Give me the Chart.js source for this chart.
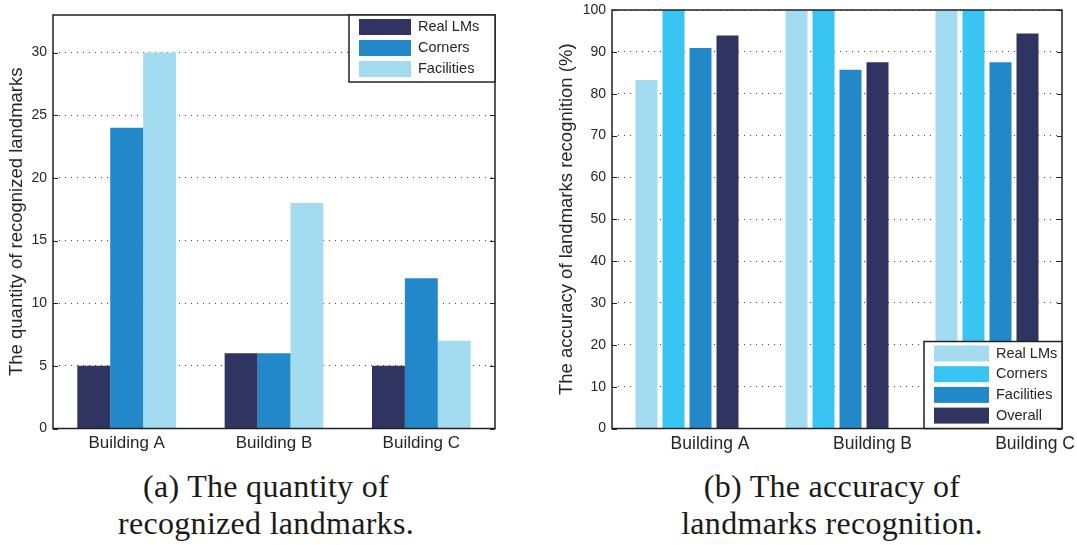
<!DOCTYPE html>
<html>
<head>
<meta charset="utf-8">
<script src="https://cdn.jsdelivr.net/npm/chart.js@4.4.1/dist/chart.umd.min.js"></script>
<style>
  body { margin: 0; background: #fff; width: 1077px; height: 545px; position: relative; overflow: hidden; }
  .wrap { position: absolute; top: 0; height: 460px; }
  .caption { position: absolute; top: 468px; font-family: "Liberation Serif", "DejaVu Serif", serif; font-size: 32px; line-height: 37px; letter-spacing: 0.3px; text-align: center; color: #1a1a1a; }
</style>
</head>
<body>
<div class="wrap" style="left:0;width:540px"><canvas id="left" width="540" height="460"></canvas></div>
<div class="wrap" style="left:540px;width:537px"><canvas id="right" width="537" height="460"></canvas></div>
<div class="caption" style="left:0;width:532px">(a) The quantity of<br>recognized landmarks.</div>
<div class="caption" style="left:562px;width:540px">(b) The accuracy of<br>landmarks recognition.</div>
<script>
const buildings = ['Building A', 'Building B', 'Building C'];

// (a) counts
const qtyReal = [5, 6, 5];
const qtyCorners = [24, 6, 12];
const qtyFacilities = [30, 18, 7];
const qtyTicks = [0, 5, 10, 15, 20, 25, 30];

// (b) accuracy in %
const accReal = [83.3, 100, 100];
const accCorners = [100, 100, 100];
const accFacilities = [90.9, 85.7, 87.5];
const accOverall = [93.9, 87.5, 94.4];
const accTicks = [0, 10, 20, 30, 40, 50, 60, 70, 80, 90, 100];

const NAVY = '#2f3461';
const MID = '#2288c9';
const LIGHT = '#a3dcf1';
const CYAN = '#38c5f1';
const INK = '#262626';
const SANS = '"Liberation Sans", Arial, sans-serif';

// box around the plot + inward y ticks (matlab style)
const framePlugin = {
    id: 'frame',
    afterDatasetsDraw(chart) {
        const { ctx, chartArea: a } = chart;
        const y = chart.scales.y;
        ctx.save();
        ctx.strokeStyle = '#222';
        ctx.lineWidth = 1.5;
        ctx.strokeRect(a.left, a.top, a.right - a.left, a.bottom - a.top);
        ctx.lineWidth = 1;
        y.ticks.forEach(t => {
            const py = Math.round(y.getPixelForValue(t.value)) + 0.5;
            ctx.beginPath();
            ctx.moveTo(a.left, py); ctx.lineTo(a.left + 5, py);
            ctx.moveTo(a.right, py); ctx.lineTo(a.right - 5, py);
            ctx.stroke();
        });
        ctx.restore();
    }
};

// legend drawn inside the plot area
const boxLegend = {
    id: 'boxLegend',
    afterDraw(chart, args, opts) {
        const { ctx, chartArea: a } = chart;
        const sets = chart.data.datasets;
        const w = opts.width, h = opts.height;
        const left = a.right - w;
        const top = opts.corner === 'bottom' ? a.bottom - h : a.top;
        ctx.save();
        ctx.fillStyle = '#fff';
        ctx.fillRect(left, top, w, h);
        ctx.strokeStyle = '#222';
        ctx.lineWidth = 1.5;
        ctx.strokeRect(left, top, w, h);
        ctx.font = '14.5px ' + SANS;
        ctx.textBaseline = 'middle';
        sets.forEach((ds, i) => {
            const ry = top + opts.first + i * opts.pitch;
            ctx.fillStyle = ds.backgroundColor;
            ctx.fillRect(left + 10, ry, opts.swatch, 16);
            ctx.fillStyle = INK;
            ctx.fillText(ds.label, left + 17 + opts.swatch, ry + 8);
        });
        ctx.restore();
    }
};

function axisY(ticks, max, title, titleSize, titlePad, width) {
    return {
        min: 0,
        max: max,
        afterBuildTicks: s => { s.ticks = ticks.map(v => ({ value: v })); },
        afterFit: s => { s.width = width; s.paddingTop = 0; s.paddingBottom = 0; },
        border: { display: false, dash: [1, 5] },
        grid: { color: '#444', lineWidth: 1, drawTicks: false },
        ticks: { color: INK, padding: 6, font: { size: 14, family: SANS } },
        title: {
            display: true, text: title, color: INK,
            padding: { top: titlePad, bottom: 0 },
            font: { size: titleSize, family: SANS }
        }
    };
}

Chart.defaults.font.family = SANS;

new Chart(document.getElementById('left'), {
    type: 'bar',
    data: {
        labels: buildings,
        datasets: [
            { label: 'Real LMs', data: qtyReal, backgroundColor: NAVY },
            { label: 'Corners', data: qtyCorners, backgroundColor: MID },
            { label: 'Facilities', data: qtyFacilities, backgroundColor: LIGHT }
        ]
    },
    options: {
        responsive: false,
        animation: false,
        devicePixelRatio: 1,
        layout: { padding: { top: 15, right: 45, left: 0, bottom: 0 } },
        datasets: { bar: { barPercentage: 1, categoryPercentage: 0.67 } },
        plugins: {
            legend: { display: false },
            tooltip: { enabled: false },
            boxLegend: { width: 146, height: 67, first: 4, pitch: 21, swatch: 52, corner: 'top' }
        },
        scales: {
            x: {
                afterFit: s => { s.height = 31.5; s.paddingLeft = 0; s.paddingRight = 0; },
                border: { display: false },
                grid: { display: false, drawTicks: false },
                ticks: { color: INK, padding: 5, font: { size: 17, family: SANS } }
            },
            y: axisY(qtyTicks, 33, 'The quantity of recognized landmarks', 18.5, 6, 53)
        }
    },
    plugins: [framePlugin, boxLegend]
});

// labels of (b) sit to the right of the bar groups in the original,
// so they go on their own linear axis under the category one
new Chart(document.getElementById('right'), {
    type: 'bar',
    data: {
        labels: buildings,
        datasets: [
            { label: 'Real LMs', data: accReal, backgroundColor: LIGHT },
            { label: 'Corners', data: accCorners, backgroundColor: CYAN },
            { label: 'Facilities', data: accFacilities, backgroundColor: MID },
            { label: 'Overall', data: accOverall, backgroundColor: NAVY }
        ]
    },
    options: {
        responsive: false,
        animation: false,
        devicePixelRatio: 1,
        layout: { padding: { top: 10, right: 15, left: 0, bottom: 0 } },
        datasets: { bar: { barPercentage: 0.815, categoryPercentage: 0.72 } },
        plugins: {
            legend: { display: false },
            tooltip: { enabled: false },
            boxLegend: { width: 138, height: 87, first: 4, pitch: 20.7, swatch: 55, corner: 'bottom' }
        },
        scales: {
            x: {
                afterFit: s => { s.height = 0; s.paddingLeft = 0; s.paddingRight = 0; },
                border: { display: false },
                grid: { display: false, drawTicks: false },
                ticks: { display: false }
            },
            xLabels: {
                type: 'linear',
                position: 'bottom',
                offset: false,
                min: -0.603,
                max: 2.166,
                afterBuildTicks: s => { s.ticks = buildings.map((b, i) => ({ value: i })); },
                afterFit: s => { s.height = 31.5; s.paddingLeft = 0; s.paddingRight = 0; },
                border: { display: false },
                grid: { display: false, drawTicks: false },
                ticks: {
                    color: INK, padding: 5, maxRotation: 0, autoSkip: false,
                    font: { size: 17.5, family: SANS },
                    callback: v => buildings[v]
                }
            },
            y: axisY(accTicks, 100, 'The accuracy of landmarks recognition (%)', 18.5, 16, 72)
        }
    },
    plugins: [framePlugin, boxLegend]
});
</script>
</body>
</html>
